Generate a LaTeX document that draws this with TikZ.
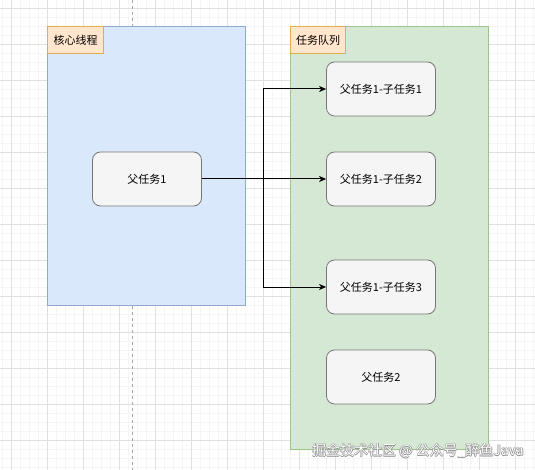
\documentclass[tikz,border=0pt]{standalone}
\usepackage{fontspec}
\setmainfont{Noto Sans CJK SC}
\usepackage{xcolor}
\usepackage{tikz}
\usetikzlibrary{arrows.meta, positioning, calc}

\definecolor{coreblue}{HTML}{DAE8FC}
\definecolor{coreedge}{HTML}{8FA9D3}
\definecolor{queuegreen}{HTML}{D5E8D4}
\definecolor{queueedge}{HTML}{9CC38A}
\definecolor{tagfill}{HTML}{FFE6CC}
\definecolor{tagedge}{HTML}{E0AE4C}
\definecolor{taskfill}{HTML}{F5F5F5}
\definecolor{taskedge}{HTML}{777777}

\begin{document}
\begin{tikzpicture}[x=1pt, y=-1pt,
  minorgrid/.style={black!4, line width=0.5pt},
  majorgrid/.style={black!12, line width=0.6pt},
  lane/.style={line width=1.2pt, minimum width=198pt, inner sep=0pt, anchor=north west},
  tag/.style={draw=tagedge, fill=tagfill, line width=1.2pt, anchor=north west, minimum height=27pt, inner sep=0pt, font=\fontsize{11}{13}\selectfont},
  task/.style={draw=taskedge, fill=taskfill, rounded corners=8pt, line width=0.8pt, minimum width=109pt, minimum height=54pt, font=\fontsize{11}{13}\selectfont},
  link/.style={line width=1pt, -{Stealth[length=7pt, width=6pt, inset=2pt]}}
]
\useasboundingbox[fill=white] (0,0) rectangle (535,470);

% background grid
\foreach \gx in {2,11,...,535} \draw[minorgrid] (\gx,0) -- (\gx,470);
\foreach \gy in {8,17,...,470} \draw[minorgrid] (0,\gy) -- (535,\gy);
\foreach \gx in {11,47,...,535} \draw[majorgrid] (\gx,0) -- (\gx,470);
\foreach \gy in {8,44,...,470} \draw[majorgrid] (0,\gy) -- (535,\gy);
\draw[black!35, dashed, line width=0.6pt] (132,0) -- (132,470);

% core thread lane
\node[lane, draw=coreedge, fill=coreblue, minimum height=279pt] (core) at (47,26) {};
\node[tag, minimum width=56pt] (coretag) at (core.north west) {核心线程};
\node[task] (p1) at (147,179) {父任务1};

% task queue lane
\node[lane, draw=queueedge, fill=queuegreen, minimum height=423pt] (queue) at (290,26) {};
\node[tag, minimum width=55pt] (queuetag) at (queue.north west) {任务队列};
\node[task] (s1) at (381,89) {父任务1-子任务1};
\node[task] (s2) at (381,179) {父任务1-子任务2};
\node[task] (s3) at (381,287) {父任务1-子任务3};
\node[task] (p2) at (381,377) {父任务2};

% split into subtasks
\coordinate (split) at (263,179);
\draw[line width=1pt] (p1.east) -- (split);
\draw[link] (split) |- (s1.west);
\draw[link] (split) -- (s2.west);
\draw[link] (split) |- (s3.west);

% watermark
\foreach \dx/\dy in {-0.7/0, 0.7/0, 0/-0.7, 0/0.7}
  \node[black!45, font=\fontsize{14}{16}\selectfont] at ($(418,451)+(\dx,\dy)$) {掘金技术社区 @ 公众号\_醉鱼Java};
\node[white, font=\fontsize{14}{16}\selectfont] (mark) at (418,451) {掘金技术社区 @ 公众号\_醉鱼Java};
\end{tikzpicture}
\end{document}
